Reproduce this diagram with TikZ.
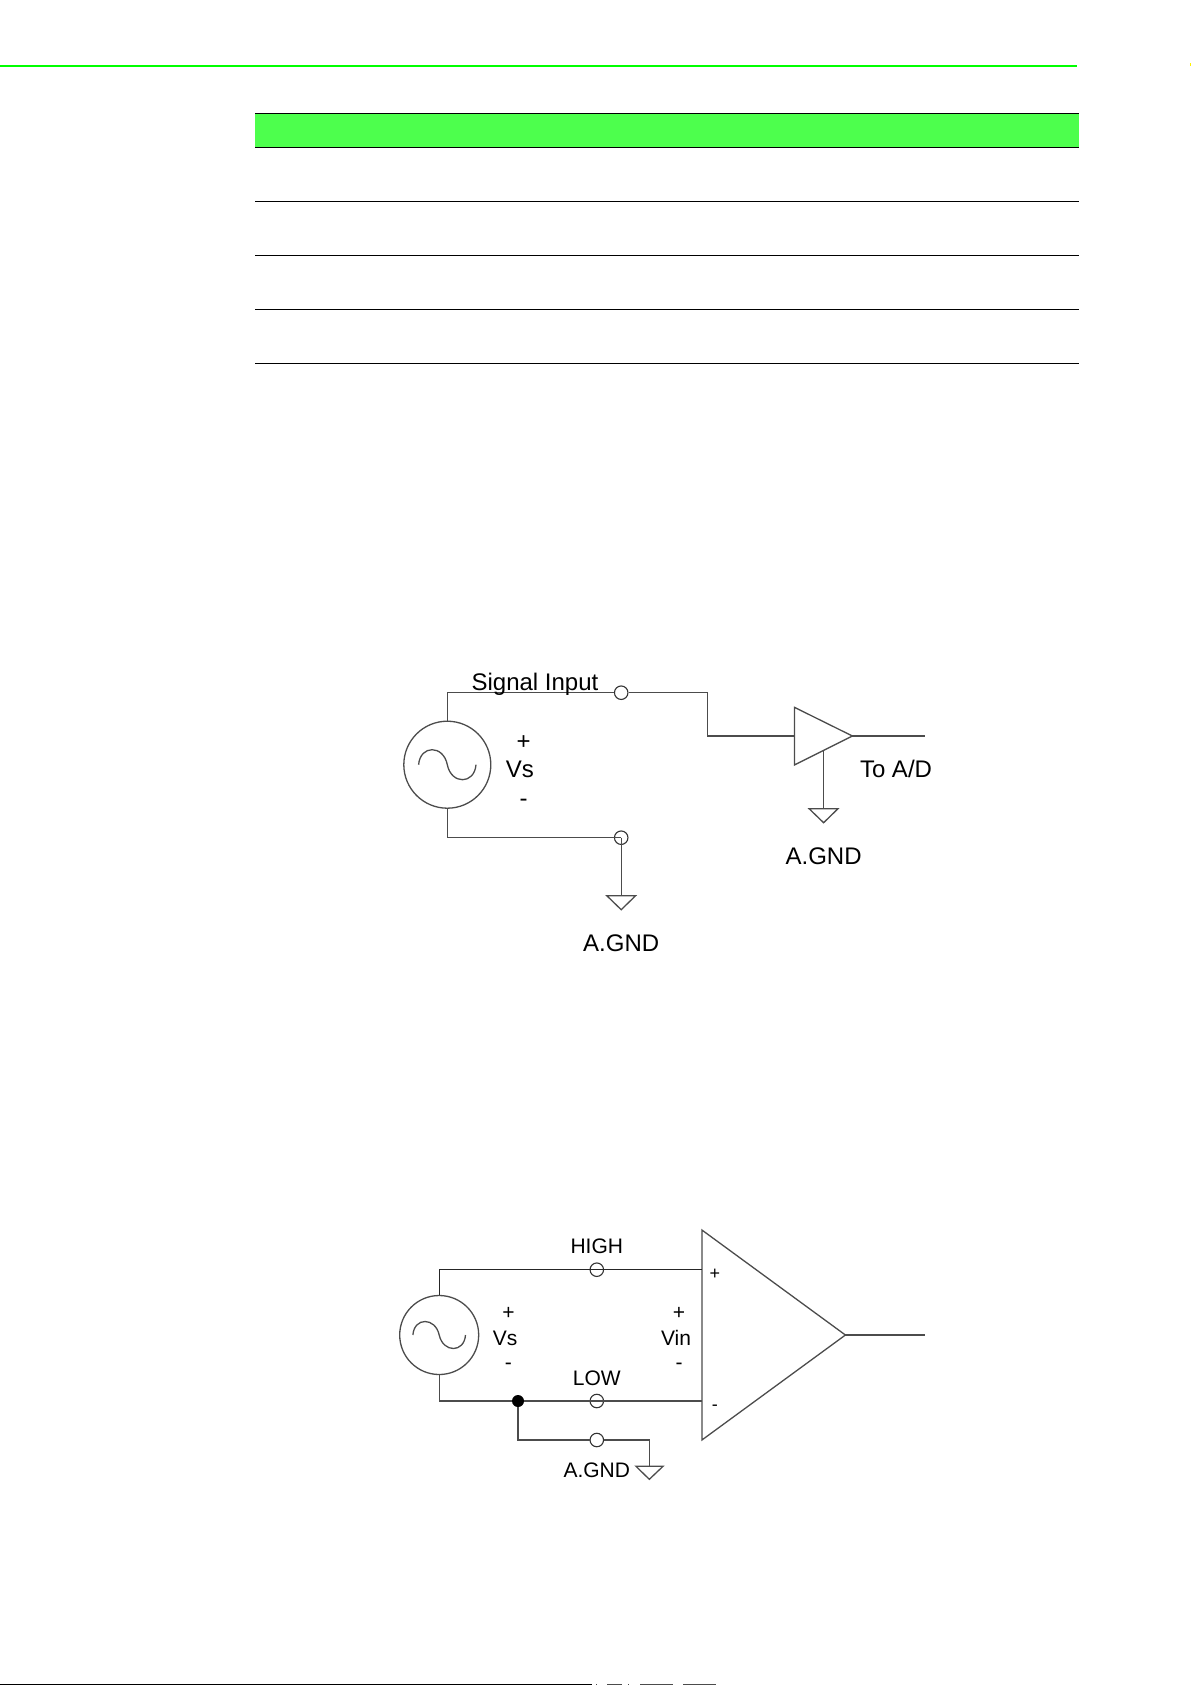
\documentclass[tikz,border=0pt]{standalone}
\usepackage{fontspec}
\setmainfont{Liberation Sans}
\usepackage{xcolor}
\usetikzlibrary{positioning}
\definecolor{barGreen}{RGB}{77,255,77}
\definecolor{ruleGreen}{RGB}{0,255,0}
\tikzset{
  wire/.style={draw=black!70,line width=1.3pt},
  term/.style={circle,draw=black!80,line width=1.1pt,inner sep=0pt,minimum size=13.5pt},
  source/.style={circle,draw=black!70,line width=1.3pt,inner sep=0pt},
  lbl/.style={inner sep=0pt,font=\fontsize{24pt}{24pt}\selectfont},
  lblb/.style={inner sep=0pt,font=\fontsize{21pt}{21pt}\selectfont},
  lblc/.style={inner sep=0pt,font=\fontsize{18pt}{18pt}\selectfont},
}
\begin{document}
\begin{tikzpicture}[x=1pt,y=-1pt]
\useasboundingbox (0,0) rectangle (1191,1685);
% page rule and table
\fill[ruleGreen] (0,65) rectangle (1077,67);
\fill[yellow] (1189.5,63.5) rectangle (1191,66);
\fill[barGreen] (255,113.5) rectangle (1078.5,147.5);
\foreach \yy in {113.5,147.5,201.3,255.3,309.3,363.3}
  \draw[black,line width=1pt] (255,\yy) -- (1078.5,\yy);
\draw[black,line width=1pt] (0,1684.3) -- (592,1684.3);
\foreach \xa/\xb in {596/597,607/622,628/629,640/673,683/716}
  \draw[black!70,line width=1pt] (\xa,1684.3) -- (\xb,1684.3);
% first circuit
\node[source,minimum size=87pt] (srcA) at (447.3,764.7) {};
\draw[wire,shift={(447.3,764.7)}] (-28.7,0) .. controls (-27,-20) and (-4,-20) .. (0,0)
  .. controls (4,20) and (27,20) .. (28.7,0);
\node[term] (inA) at (621.2,692.7) {};
\node[term] (gndA) at (621.2,837.7) {};
\coordinate (ampAtop) at (794.4,707.3);
\coordinate (ampAbot) at (794.4,765);
\coordinate (ampAtip) at (852.4,736);
\draw[wire] (ampAtop) -- (ampAtip) -- (ampAbot) -- cycle;
\coordinate (ampAin) at (794.4,736);
\coordinate (outA) at (925,736);
\draw[wire] (srcA) -- (447.3,692.7) -- (inA);
\draw[wire] (inA) -- (707.8,692.7) -- (707.8,736) -- (ampAin);
\draw[wire] (ampAtip) -- (outA);
\draw[wire] (srcA) -- (447.3,837.7) -- (gndA.center);
% grounds
\coordinate (earthA) at (621.2,895.7);
\draw[wire] (gndA.center) -- (earthA);
\draw[wire] (606.8,895.7) -- (635.6,895.7) -- (621.2,909.7) -- cycle;
\coordinate (ampAgnd) at (823.6,750.7);
\coordinate (earthB) at (823.6,808.7);
\draw[wire] (ampAgnd) -- (earthB);
\draw[wire] (809.1,808.7) -- (838,808.7) -- (823.6,822.7) -- cycle;
\node[lbl] (sigIn) at (535,684.7) {Signal Input};
\node[lbl] (plusA) at (523.5,743) {+};
\node[lbl] (vsA) at (519.8,769.3) {Vs};
\node[lbl] (minusA) at (523.5,803) {-};
\node[lbl] (toAD) at (896,769.3) {To A/D};
\node[lbl] (agndB) at (823.6,856.7) {A.GND};
\node[lbl] (agndA) at (621.2,943.7) {A.GND};
% second circuit
\node[source,minimum size=79pt] (srcB) at (439.2,1335) {};
\draw[wire,shift={(439.2,1335)}] (-26.3,0) .. controls (-25,-18) and (-4,-18) .. (0,0)
  .. controls (4,18) and (25,18) .. (26.3,0);
\coordinate (ampBtop) at (701.9,1230);
\coordinate (ampBbot) at (701.9,1440);
\coordinate (ampBtip) at (845.4,1335);
\draw[wire] (ampBtop) -- (ampBtip) -- (ampBbot) -- cycle;
\node[term] (high) at (596.8,1269.7) {};
\node[term] (low) at (596.8,1401) {};
\node[term] (gndB) at (596.8,1440) {};
\node[circle,fill=black,inner sep=0pt,minimum size=12pt] (jct) at (518,1401) {};
\coordinate (outB) at (925,1335);
\draw[wire,draw=black!85] (srcB) -- (439.2,1269.7) -- (high.center) -- (701.9,1269.7);
\draw[wire] (srcB) -- (439.2,1401) -- (jct);
\draw[wire] (jct) -- (low.center) -- (701.9,1401);
\draw[wire] (jct) -- (518,1440) -- (gndB);
\draw[wire] (gndB) -- (649.3,1440) -- (649.3,1466.3);
\draw[wire] (636,1466.3) -- (663,1466.3) -- (649.3,1479.3) -- cycle;
\draw[wire] (ampBtip) -- (outB);
\node[lblb] (highL) at (596.8,1246) {HIGH};
\node[lblb] (lowL) at (596.8,1378) {LOW};
\node[lblb] (agndC) at (596.8,1470.5) {A.GND};
\node[lblb] (plusB) at (508.4,1313.7) {+};
\node[lblb] (vsB) at (505,1338.3) {Vs};
\node[lblb] (minusB) at (508.4,1366) {-};
\node[lblb] (plusC) at (679,1313.7) {+};
\node[lblb] (vin) at (676,1338.3) {Vin};
\node[lblb] (minusC) at (679,1366) {-};
\node[lblc] (ampPlus) at (714.8,1274.3) {+};
\node[lblc] (ampMinus) at (714.8,1407.7) {-};
\end{tikzpicture}
\end{document}
